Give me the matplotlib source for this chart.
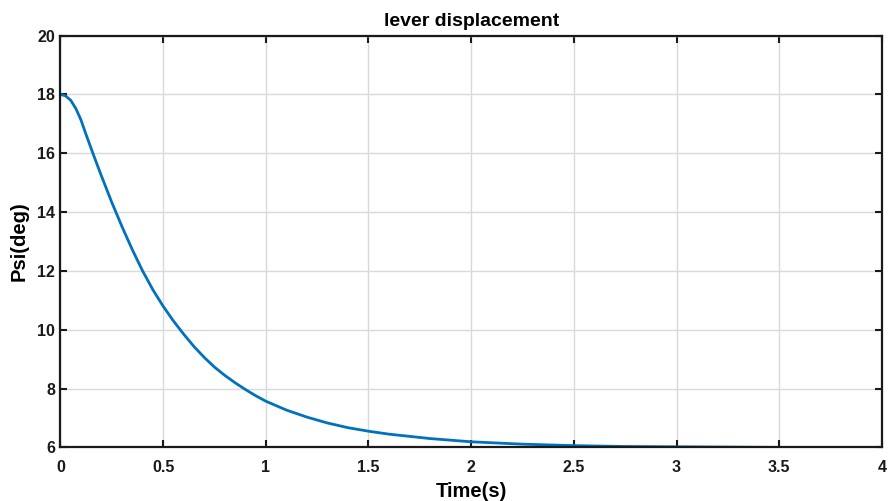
import numpy as np
import matplotlib
matplotlib.use("Agg")
import matplotlib.pyplot as plt

# values
time_s = [0, 0.025, 0.05, 0.075, 0.1, 0.125, 0.15, 0.175, 0.2, 0.25, 0.3,
          0.35, 0.4, 0.45, 0.5, 0.55, 0.6, 0.65, 0.7, 0.75, 0.8, 0.85, 0.9,
          0.95, 1.0, 1.1, 1.2, 1.3, 1.4, 1.5, 1.6, 1.8, 2.0, 2.25, 2.5, 2.75,
          3.0, 3.5, 4.0]
psi_deg = [18.0, 17.95, 17.8, 17.52, 17.13, 16.63, 16.15, 15.68, 15.22,
           14.33, 13.5, 12.72, 12.0, 11.36, 10.8, 10.3, 9.85, 9.43, 9.06,
           8.73, 8.45, 8.2, 7.97, 7.76, 7.57, 7.27, 7.03, 6.83, 6.67, 6.55,
           6.45, 6.3, 6.19, 6.11, 6.06, 6.03, 6.02, 6.0, 6.0]

x_ticks = [0, 0.5, 1, 1.5, 2, 2.5, 3, 3.5, 4]
x_labels = ['0', '0.5', '1', '1.5', '2', '2.5', '3', '3.5', '4']
y_ticks = [6, 8, 10, 12, 14, 16, 18, 20]

plt.rcParams['font.family'] = ['Liberation Sans', 'DejaVu Sans']
plt.rcParams['font.weight'] = 'bold'

fig = plt.figure(figsize=(8.89, 5.01), dpi=100)
ax = fig.add_axes([0.068, 0.107, 0.924, 0.822])

ax.plot(time_s, psi_deg, color='#0072BD', lw=2.0)

ax.set_xlim(0, 4)
ax.set_ylim(6, 20)
ax.set_xticks(x_ticks)
ax.set_xticklabels(x_labels)
ax.set_yticks(y_ticks)
ax.grid(True, color='#d9d9d9', lw=1.0)
ax.set_axisbelow(True)

ax.tick_params(direction='in', length=5, width=1.5, top=True, right=True,
               labelsize=11.5, colors='#1a1a1a')
ax.tick_params(axis='x', pad=9)
ax.tick_params(axis='y', pad=4)
for s in ax.spines.values():
    s.set_linewidth(1.6)
    s.set_color('#1a1a1a')

ax.set_title('lever displacement', fontsize=14, fontweight='bold', pad=7)
ax.set_xlabel('Time(s)', fontsize=14.5, fontweight='bold', labelpad=5)
ax.set_ylabel('Psi(deg)', fontsize=14.5, fontweight='bold', labelpad=6)

fig.savefig('out.png', dpi=100)
